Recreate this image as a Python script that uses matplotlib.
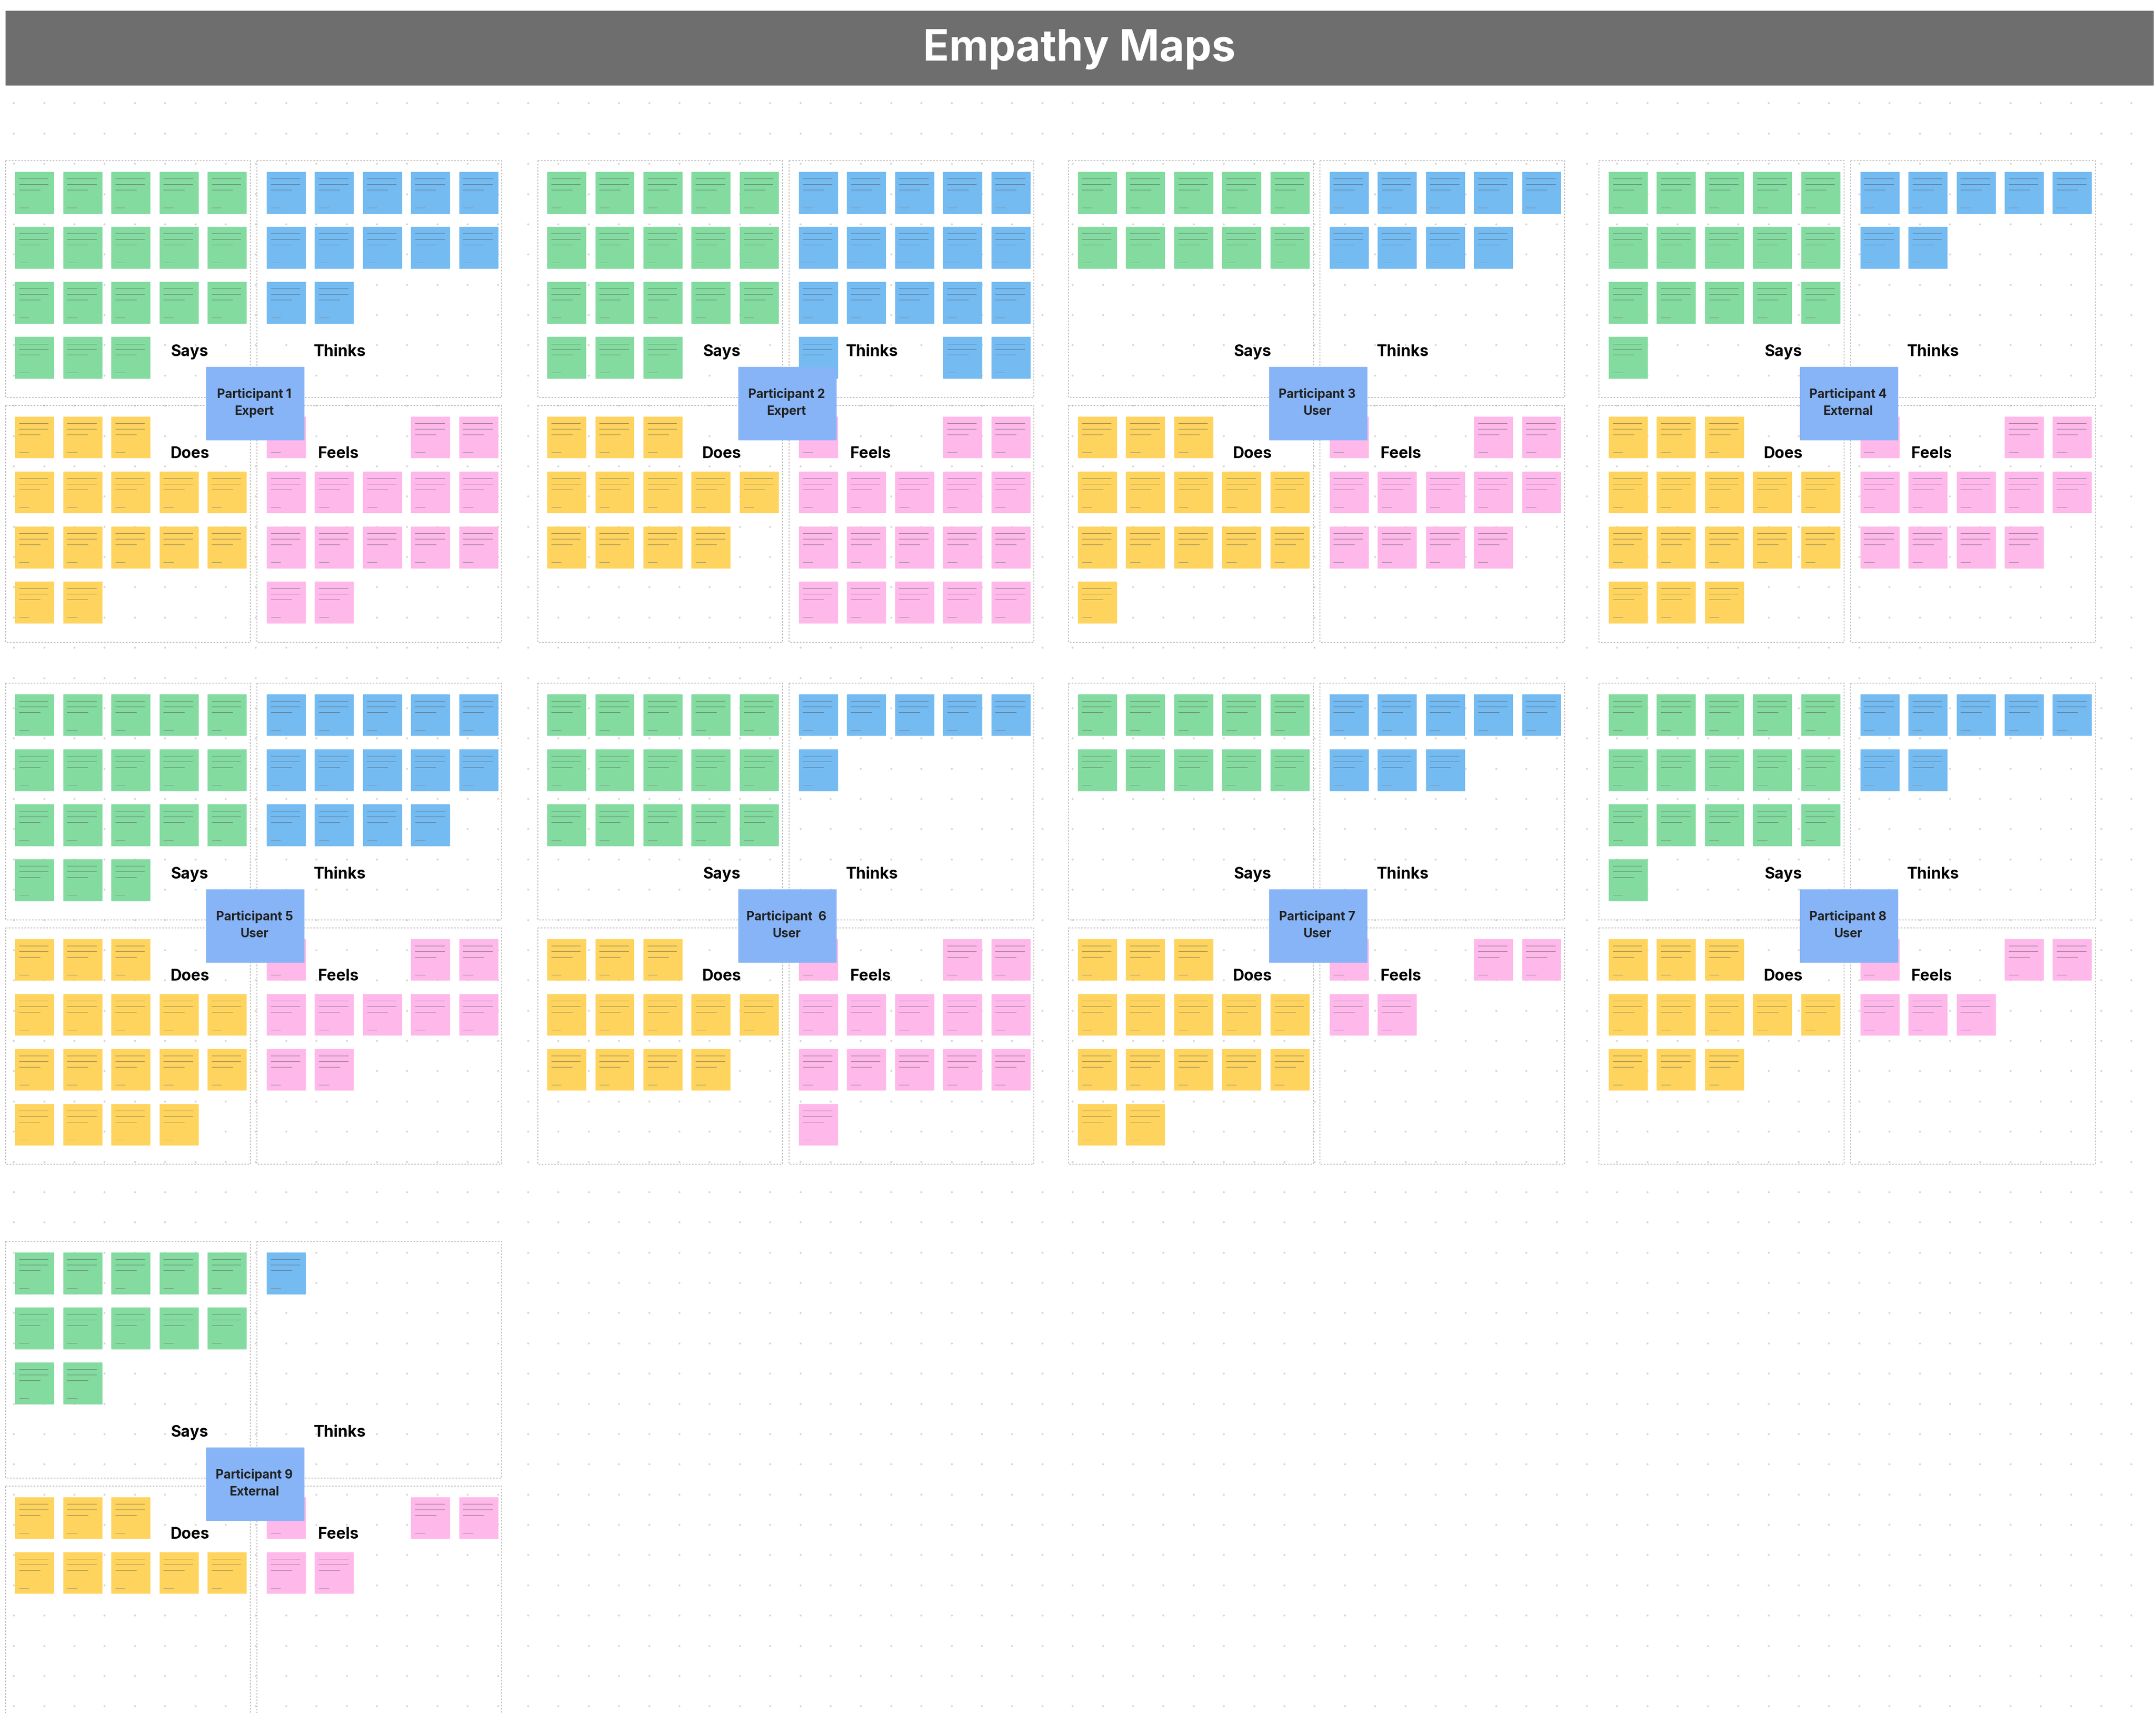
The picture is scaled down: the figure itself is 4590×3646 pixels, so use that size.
import matplotlib.pyplot as plt
from matplotlib.patches import Rectangle
import numpy as np

plt.rcParams['font.family'] = ['Inter', 'DejaVu Sans']

# board coordinates are in "display" units of a 1568 x 1246 canvas
participants = ["Participant 1", "Participant 2", "Participant 3", "Participant 4", "Participant 5",
                "Participant  6", "Participant 7", "Participant 8", "Participant 9"]
roles = ["Expert", "Expert", "User", "External", "User", "User", "User", "User", "External"]
says_counts = [18, 18, 10, 16, 18, 15, 10, 16, 12]
thinks_counts = [12, 18, 9, 7, 14, 6, 8, 7, 1]
does_counts = [15, 12, 14, 16, 17, 12, 15, 11, 8]
feels_counts = [15, 18, 12, 12, 10, 14, 5, 6, 5]
quadrant_names = ["Says", "Thinks", "Does", "Feels"]
note_colors = ["#83dba0", "#74bbf2", "#ffd45e", "#ffb8ea"]

W, H = 1568, 1246
fig = plt.figure(figsize=(45.9, 36.46), dpi=100)
ax = fig.add_axes([0, 0, 1, 1])
ax.set_xlim(0, W)
ax.set_ylim(H, 0)
ax.axis('off')

# dotted board background
gx, gy = np.meshgrid(np.arange(10, W, 22), np.arange(75, H, 22))
ax.scatter(gx.ravel(), gy.ravel(), s=4, color="#d5d5d5", zorder=0)

# title bar
ax.add_patch(Rectangle((4, 8), 1562, 54, color="#6e6e6e", zorder=1))
ax.text(785, 36, "Empathy Maps", color="white", fontsize=66, fontweight="bold",
        ha="center", va="center", zorder=2)

col_x = [4, 391, 777, 1163]
row_y = [117, 497, 903]
qw, qh = 178, 172


def draw_notes(x0, y0, n, color, avoid):
    cells = []
    for r in range(4):
        for c in range(5):
            nx, ny = x0 + 7 + c * 35, y0 + 8 + r * 40
            ax0, ay0, ax1, ay1 = avoid
            if nx + 28 > ax0 and nx < ax1 and ny + 30 > ay0 and ny < ay1:
                continue
            cells.append((nx, ny))
    for nx, ny in cells[:n]:
        ax.add_patch(Rectangle((nx, ny), 28, 30, color=color, zorder=3))
        for k in range(3):
            ax.plot([nx + 3, nx + 24 - 6 * (k == 2)], [ny + 5 + 4 * k] * 2,
                    color="#555555", lw=0.8, alpha=0.6, zorder=4)
        ax.plot([nx + 3, nx + 10], [ny + 26] * 2, color="#888888", lw=0.6, zorder=4)


for i in range(9):
    bx = col_x[i % 4]
    by = row_y[i // 4]
    counts = [says_counts[i], thinks_counts[i], does_counts[i], feels_counts[i]]
    origins = [(bx, by), (bx + 183, by), (bx, by + 178), (bx + 183, by + 178)]
    for q, (qx, qy) in enumerate(origins):
        hh = qh if not (i == 8 and q >= 2) else H - qy + 5
        ax.add_patch(Rectangle((qx, qy), qw, hh, fill=False, ec="#b0b0b0",
                               ls=(0, (2, 2)), lw=1.2, zorder=2))
    labels = [(bx + 134, by + 139, "Says"), (bx + 243, by + 139, "Thinks"),
              (bx + 134, by + 213, "Does"), (bx + 242, by + 213, "Feels")]
    avoids = [(bx + 112, by + 128, bx + 156, by + 150), (bx + 220, by + 128, bx + 266, by + 150),
              (bx + 116, by + 202, bx + 152, by + 224), (bx + 222, by + 202, bx + 262, by + 224)]
    for lx, ly, name in labels:
        ax.text(lx, ly, name, fontsize=24, fontweight="bold", ha="center", va="center", zorder=2)
    for q, (qx, qy) in enumerate(origins):
        draw_notes(qx, qy, counts[q], note_colors[q], avoids[q])
    # participant tag
    ax.add_patch(Rectangle((bx + 146, by + 150), 71, 53, color="#86b4f7", zorder=5))
    ax.text(bx + 181, by + 176, participants[i] + "\n" + roles[i], fontsize=19, fontweight="bold",
            ha="center", va="center", color="#222222", linespacing=1.5, zorder=6)

fig.savefig("out.png", dpi=100, facecolor="white")
